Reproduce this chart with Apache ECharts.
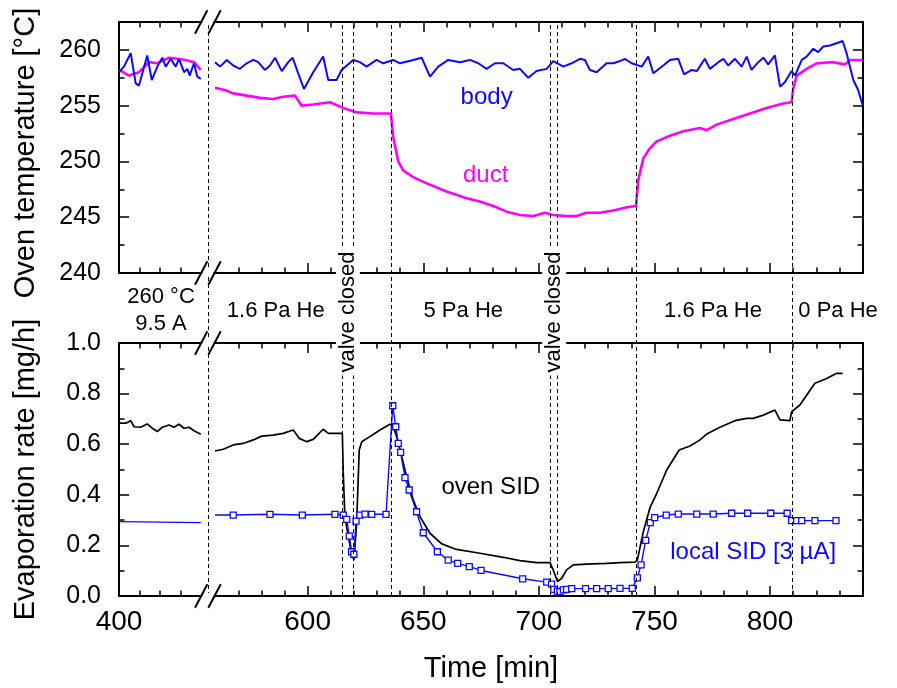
<!DOCTYPE html>
<html><head><meta charset="utf-8">
<script src="https://cdn.jsdelivr.net/npm/echarts@6/dist/echarts.min.js"></script>
<style>html,body{margin:0;padding:0;background:#fff}#c{width:897px;height:688px}</style>
</head><body><div id="c"></div>
<script>
// ---------------- data (time in minutes) ----------------
const bodyLeft = [[400.0,258.0],[402.4,258.5],[405.7,259.7],[408.1,257.0],[409.7,256.8],[413.7,259.5],[415.9,257.3],[418.6,258.5],[421.0,259.3],[422.7,258.5],[425.1,259.2],[427.5,258.5],[429.1,259.2],[431.6,258.0],[433.2,258.3],[434.3,257.7],[436.4,258.8],[438.0,257.6],[439.7,257.4]];
const bodyRight = [[559.9,258.9],[562.1,258.5],[565.0,259.1],[567.8,258.6],[570.7,258.3],[573.6,258.8],[576.5,259.1],[578.6,258.9],[581.5,258.2],[583.7,258.6],[585.9,259.3],[588.8,258.1],[591.6,258.9],[593.5,259.3],[595.9,257.9],[598.4,256.5],[602.4,258.0],[606.7,259.4],[608.9,257.3],[612.5,257.3],[614.7,258.2],[619.7,259.1],[622.6,258.9],[625.5,258.5],[629.8,259.1],[632.7,258.8],[637.0,259.1],[639.9,258.8],[645.7,259.1],[649.3,259.3],[652.9,257.6],[656.5,258.5],[660.8,259.1],[665.9,258.9],[670.2,259.1],[673.8,258.8],[677.4,258.3],[681.0,258.8],[684.6,258.8],[688.9,258.2],[691.8,258.3],[695.4,257.5],[699.0,258.1],[703.4,258.3],[706.2,259.0],[710.6,258.5],[714.2,258.8],[717.8,259.2],[719.9,259.1],[722.1,258.2],[725.0,258.0],[729.3,258.8],[732.2,258.8],[735.1,259.0],[737.2,259.2],[740.1,258.8],[744.5,258.5],[747.3,259.4],[749.5,257.9],[753.8,258.6],[756.7,259.1],[760.3,259.2],[762.8,257.8],[766.1,258.2],[768.3,258.1],[771.8,259.2],[774.0,258.3],[777.6,258.9],[779.8,259.2],[781.9,258.6],[784.8,259.2],[787.7,258.5],[789.9,259.4],[792.0,258.2],[794.9,258.9],[797.1,259.3],[799.2,258.7],[802.1,259.5],[804.3,256.7],[806.4,257.1],[809.3,258.1],[810.8,257.7],[813.7,259.1],[815.8,259.4],[818.7,260.1],[820.8,259.8],[823.0,260.3],[825.9,260.4],[828.8,260.6],[831.4,260.8],[833.1,259.7],[836.0,257.3],[838.1,256.4],[840.1,255.0]];
const ductLeft = [[400.0,258.2],[404.9,257.7],[409.7,258.0],[414.6,258.9],[418.6,258.8],[424.3,259.3],[428.3,259.2],[432.4,259.1],[436.4,258.9],[439.7,258.2]];
const ductRight = [[559.9,256.6],[564.2,256.4],[567.8,256.1],[573.6,255.9],[579.4,255.7],[585.1,255.6],[589.4,255.8],[594.5,255.9],[597.4,255.0],[602.4,255.1],[609.6,255.3],[615.4,254.8],[621.2,254.4],[628.4,254.3],[636.0,254.3],[637.0,252.2],[639.2,250.0],[641.3,249.2],[645.7,248.6],[650.7,248.1],[654.3,247.8],[660.1,247.3],[668.8,246.7],[674.5,246.4],[680.3,246.0],[686.1,245.5],[691.8,245.2],[697.6,245.1],[702.6,245.4],[706.2,245.2],[712.0,245.1],[716.3,245.1],[720.7,245.4],[726.4,245.4],[732.2,245.6],[738.0,245.9],[742.0,246.0],[743.0,248.3],[745.2,250.3],[748.1,251.2],[751.0,251.8],[756.7,252.3],[762.5,252.7],[769.7,253.0],[772.6,252.8],[776.9,253.3],[784.1,253.8],[791.3,254.3],[798.5,254.8],[805.7,255.2],[809.3,255.3],[810.0,256.5],[811.5,257.7],[815.8,258.3],[820.2,258.8],[827.3,258.9],[832.4,258.7],[834.6,259.1],[840.1,259.1]];
const ovenLeft = [[400.0,0.683],[403.3,0.683],[405.7,0.693],[407.3,0.669],[410.5,0.667],[413.7,0.680],[416.2,0.663],[418.6,0.650],[421.0,0.667],[424.3,0.676],[426.7,0.667],[429.1,0.679],[431.6,0.663],[434.0,0.667],[436.4,0.653],[439.7,0.639]];
const ovenRight = [[559.9,0.573],[563.5,0.580],[567.8,0.597],[572.1,0.603],[576.5,0.617],[580.1,0.632],[585.1,0.636],[589.4,0.643],[593.8,0.656],[596.4,0.623],[599.6,0.610],[602.4,0.619],[606.7,0.659],[608.9,0.643],[614.0,0.643],[615.0,0.643],[615.4,0.485],[616.1,0.313],[617.6,0.234],[619.0,0.169],[620.0,0.142],[621.2,0.287],[622.3,0.577],[623.4,0.610],[626.9,0.630],[631.3,0.656],[635.6,0.679],[636.8,0.676],[638.5,0.630],[640.7,0.551],[642.8,0.472],[645.7,0.379],[648.6,0.313],[652.9,0.248],[658.0,0.206],[664.4,0.184],[674.5,0.169],[684.6,0.153],[691.8,0.140],[699.0,0.132],[704.8,0.132],[706.2,0.103],[708.1,0.057],[709.9,0.070],[712.0,0.103],[714.9,0.123],[720.7,0.126],[729.3,0.129],[735.1,0.132],[741.6,0.134],[742.6,0.142],[745.2,0.255],[748.1,0.350],[751.0,0.406],[755.3,0.498],[760.7,0.577],[765.4,0.593],[769.7,0.617],[772.6,0.640],[778.3,0.667],[784.8,0.693],[789.9,0.702],[792.7,0.702],[797.1,0.715],[802.1,0.735],[804.3,0.696],[808.6,0.693],[809.3,0.728],[812.9,0.755],[819.4,0.841],[824.5,0.860],[828.8,0.880],[831.4,0.880]];
const localLeft = [[400.0,0.294],[439.7,0.290]];
const localStart = [559.9,0.320];
const localRight = [[567.8,0.320],[583.7,0.323],[597.7,0.320],[611.8,0.323],[615.4,0.320],[616.9,0.303],[618.0,0.237],[619.0,0.175],[620.0,0.165],[620.9,0.296],[622.6,0.320],[624.8,0.324],[627.7,0.323],[633.9,0.323],[636.8,0.752],[638.1,0.669],[639.2,0.603],[640.2,0.568],[642.1,0.468],[643.9,0.419],[647.1,0.333],[650.0,0.250],[656.1,0.175],[660.8,0.142],[664.9,0.129],[669.9,0.116],[675.0,0.101],[693.0,0.068],[703.4,0.055],[705.5,0.047],[706.5,0.026],[708.0,0.019],[709.1,0.017],[710.6,0.024],[712.0,0.026],[714.2,0.029],[720.2,0.029],[725.0,0.029],[730.0,0.029],[735.1,0.030],[740.4,0.030],[742.6,0.072],[744.2,0.123],[746.2,0.220],[748.2,0.290],[750.1,0.310],[755.1,0.320],[760.3,0.324],[768.3,0.324],[775.4,0.324],[783.4,0.327],[790.3,0.327],[800.3,0.327],[807.4,0.327],[809.3,0.298],[811.5,0.298],[813.7,0.298],[819.4,0.298],[828.5,0.298]];
const eventTimes = [615.0, 619.7, 636.0, 705.1, 708.0, 742.1, 809.6];
const xLabelTimes = [400, 600, 650, 700, 750, 800];
const xMajorTimes = [600, 650, 700, 750, 800];
const xMinorTimes = [410,420,430,570,580,590,610,620,630,640,660,670,680,690,710,720,730,740,760,770,780,790,810,820,830];
const tempLabels = [240, 245, 250, 255, 260];
const tempMinor = [242.5, 247.5, 252.5, 257.5];
const rateLabels = [0, 0.2, 0.4, 0.6, 0.8, 1.0];
const rateMinor = [0.1, 0.3, 0.5, 0.7, 0.9];
const phaseLabels = [
  {text: '1.6 Pa He', t: 586.2},
  {text: '5 Pa He', t: 667.3},
  {text: '1.6 Pa He', t: 775.3},
  {text: '0 Pa He', t: 829.4}
];
const valveTimes = [617.4, 706.6];

// ---------------- broken time axis ----------------
const X_MIN = 518.4, X_MAX = 840.2, LEFT_K = 0.891, BREAK_U = 557.0;
const toAxis = t => t < 500 ? X_MIN + (t - 400) * LEFT_K : t;
const fromAxis = u => u < BREAK_U ? 400 + (u - X_MIN) / LEFT_K : u;
const mapPts = pts => pts.map(p => [toAxis(p[0]), p[1]]);
const joinSeg = (l, r) => mapPts(l).concat([[BREAK_U, '-']], mapPts(r));

const FONT = 'Liberation Sans, Arial, Helvetica, sans-serif';
const BLUE = '#0a0aff', MAG = '#ff00ff';
const L = 119, W = 744;
const P1 = {top: 22, height: 251};
const P2 = {top: 343, height: 253};

const xMajor = xMajorTimes.map(toAxis), xMinor = xMinorTimes.map(toAxis), xLab = xLabelTimes.map(toAxis);
const tickStyle = {color: '#000', width: 1.5};
const axLine = {show: true, onZero: false, lineStyle: {color: '#000', width: 2}};

function xAxesFor(g, withLabels) {
  const base = {gridIndex: g, type: 'value', min: X_MIN, max: X_MAX, splitLine: {show: false}};
  const lab = withLabels ? {show: true, customValues: xLab, formatter: v => String(Math.round(fromAxis(v))),
      fontSize: 28, color: '#000', margin: 12, fontFamily: FONT} : {show: false};
  return [
    Object.assign({}, base, {position: 'bottom', axisLine: axLine, axisTick: {show: true, inside: true, length: 10, customValues: xMajor, lineStyle: tickStyle}, axisLabel: lab}),
    Object.assign({}, base, {position: 'bottom', axisLine: {show: false, onZero: false}, axisTick: {show: true, inside: true, length: 5.5, customValues: xMinor, lineStyle: tickStyle}, axisLabel: {show: false}}),
    Object.assign({}, base, {position: 'top', axisLine: axLine, axisTick: {show: true, inside: true, length: 10, customValues: xMajor, lineStyle: tickStyle}, axisLabel: {show: false}}),
    Object.assign({}, base, {position: 'top', axisLine: {show: false, onZero: false}, axisTick: {show: true, inside: true, length: 5.5, customValues: xMinor, lineStyle: tickStyle}, axisLabel: {show: false}})
  ];
}
function yAxesFor(g, min, max, major, minor, fmt) {
  const base = {gridIndex: g, type: 'value', min: min, max: max, splitLine: {show: false}};
  return [
    Object.assign({}, base, {position: 'left', axisLine: axLine, axisTick: {show: true, inside: true, length: 10, customValues: major, lineStyle: tickStyle},
      axisLabel: {show: true, customValues: major, formatter: fmt, fontSize: 25, color: '#000', margin: 18, fontFamily: FONT}}),
    Object.assign({}, base, {position: 'left', axisLine: {show: false, onZero: false}, axisTick: {show: true, inside: true, length: 5.5, customValues: minor, lineStyle: tickStyle}, axisLabel: {show: false}}),
    Object.assign({}, base, {position: 'right', axisLine: axLine, axisTick: {show: true, inside: true, length: 10, customValues: major, lineStyle: tickStyle}, axisLabel: {show: false}}),
    Object.assign({}, base, {position: 'right', axisLine: {show: false, onZero: false}, axisTick: {show: true, inside: true, length: 5.5, customValues: minor, lineStyle: tickStyle}, axisLabel: {show: false}})
  ];
}

const xAxes = xAxesFor(0, false).concat(xAxesFor(1, true), [{gridIndex: 2, type: 'value', min: X_MIN, max: X_MAX, show: false}]);
const yAxes = yAxesFor(0, 240, 262.5, tempLabels, tempMinor, v => String(v))
  .concat(yAxesFor(1, 0, 1, rateLabels, rateMinor, v => v.toFixed(1)), [{gridIndex: 2, type: 'value', min: 0, max: 1, show: false}]);

const lineBase = {type: 'line', showSymbol: false, animation: false, silent: true, connectNulls: false};

const option = {
  animation: false,
  backgroundColor: '#fff',
  grid: [
    {left: L, width: W, top: P1.top, height: P1.height, outerBoundsMode: 'none'},
    {left: L, width: W, top: P2.top, height: P2.height, outerBoundsMode: 'none'},
    {left: L, width: W, top: P1.top, height: P2.top + P2.height - P1.top, outerBoundsMode: 'none'}
  ],
  xAxis: xAxes,
  yAxis: yAxes,
  series: [
    Object.assign({}, lineBase, {name: 'body', xAxisIndex: 0, yAxisIndex: 0, data: joinSeg(bodyLeft, bodyRight), lineStyle: {color: BLUE, width: 2}, z: 3}),
    Object.assign({}, lineBase, {name: 'duct', xAxisIndex: 0, yAxisIndex: 0, data: joinSeg(ductLeft, ductRight), lineStyle: {color: MAG, width: 2.6}, z: 2}),
    Object.assign({}, lineBase, {name: 'oven SID', xAxisIndex: 4, yAxisIndex: 4, data: joinSeg(ovenLeft, ovenRight), lineStyle: {color: '#000', width: 1.7}, z: 2}),
    Object.assign({}, lineBase, {name: 'local SID left', xAxisIndex: 4, yAxisIndex: 4, data: mapPts(localLeft), lineStyle: {color: BLUE, width: 1.4}, z: 3}),
    Object.assign({}, lineBase, {name: 'local SID', xAxisIndex: 4, yAxisIndex: 4, showSymbol: true, showAllSymbol: true,
      symbol: 'rect', symbolSize: 6,
      data: [{value: mapPts([localStart])[0], symbol: 'none'}].concat(mapPts(localRight)),
      itemStyle: {color: '#fff', borderColor: BLUE, borderWidth: 1.3},
      lineStyle: {color: BLUE, width: 1.4}, z: 3}),
    Object.assign({}, lineBase, {name: 'events', xAxisIndex: 8, yAxisIndex: 8, data: [[600, -1]], z: 4,
      markLine: {silent: true, symbol: ['none', 'none'], animation: false, label: {show: false},
        lineStyle: {type: [4, 3], color: '#000', width: 1},
        data: [BREAK_U].concat(eventTimes.map(toAxis)).map(u => ({xAxis: u}))}})
  ]
};

const chart = echarts.init(document.getElementById('c'), null, {renderer: 'canvas'});
chart.setOption(option);

// ---------- decorations: axis break marks, titles, annotations ----------
const bx = chart.convertToPixel({xAxisIndex: 0}, BREAK_U);
const axisYs = [P1.top, P1.top + P1.height, P2.top, P2.top + P2.height];
const els = [];
axisYs.forEach(y => {
  els.push({type: 'rect', z: 50, shape: {x: bx - 6, y: y - 3, width: 11.5, height: 6}, style: {fill: '#fff'}});
  els.push({type: 'line', z: 60, shape: {x1: bx - 13.2, y1: y + 11.7, x2: bx - 0.9, y2: y - 11.7}, style: {stroke: '#000', lineWidth: 2}});
  els.push({type: 'line', z: 60, shape: {x1: bx + 0.1, y1: y + 11.7, x2: bx + 12.5, y2: y - 11.7}, style: {stroke: '#000', lineWidth: 2}});
});
function txt(text, x, y, size, color, extra) {
  return Object.assign({type: 'text', z: 100, x: x, y: y,
    style: Object.assign({text: text, fill: color, fontSize: size, fontFamily: FONT, align: 'center', verticalAlign: 'middle'}, extra || {})});
}
const px = t => chart.convertToPixel({xAxisIndex: 0}, toAxis(t));
const midY = (P1.top + P1.height + P2.top) / 2;
els.push(txt('Oven temperature [°C]', 26, 153, 29, '#000'));
els[els.length - 1].rotation = Math.PI / 2;
els.push(txt('Evaporation rate [mg/h]', 26, P2.top + P2.height / 2, 29, '#000'));
els[els.length - 1].rotation = Math.PI / 2;
els.push(txt('Time [min]', L + W / 2, 669, 29, '#000'));
els.push(txt('body', px(677.4), 97, 24, BLUE));
els.push(txt('duct', px(677.0), 175, 24, MAG));
els.push(txt('oven SID', px(679.2), 487, 24, '#000'));
els.push(txt('local SID [3 µA]', px(792.7), 552, 24, BLUE));
els.push(txt('260 °C', px(420.4), 297, 22, '#000'));
els.push(txt('9.5 A', px(420.4), 324, 22, '#000'));
phaseLabels.forEach(p => els.push(txt(p.text, px(p.t), midY + 2.6, 22, '#000')));
valveTimes.forEach(t => {
  const e = txt('valve closed', px(t), 312, 22, '#000', {backgroundColor: '#fff', padding: [1, 3]});
  e.rotation = Math.PI / 2;
  els.push(e);
});
chart.setOption({graphic: {elements: els}});
</script></body></html>
